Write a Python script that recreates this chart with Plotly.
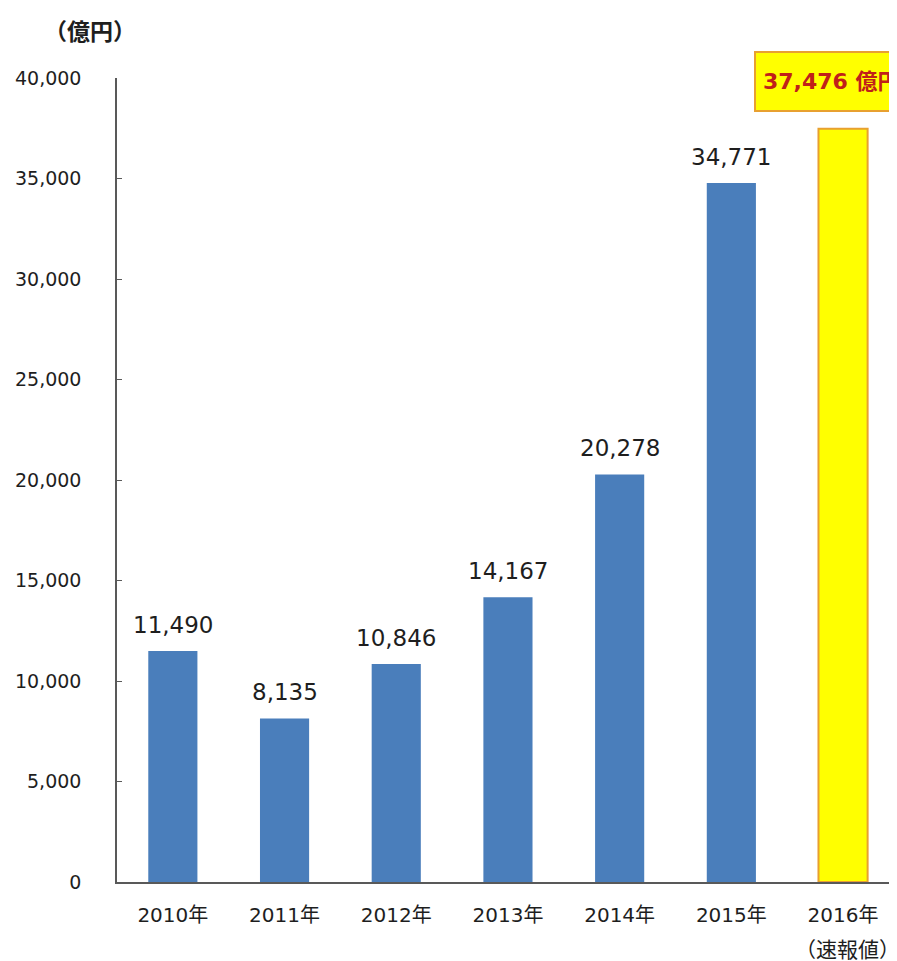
import plotly.graph_objects as go

categories = ["2010年", "2011年", "2012年", "2013年", "2014年", "2015年", "2016年"]
values = [11490, 8135, 10846, 14167, 20278, 34771, 37476]
y_ticks = [0, 5000, 10000, 15000, 20000, 25000, 30000, 35000, 40000]
y_tick_labels = ["0", "5,000", "10,000", "15,000", "20,000", "25,000", "30,000", "35,000", "40,000"]
unit_label = "（億円）"
note_label = "（速報値）"
callout_label = "37,476 億円"

FONT = "DejaVu Sans, Noto Sans CJK JP"
CJK = "Noto Sans CJK JP"
BLUE = "#4A7EBB"
YELLOW = "#FFFF00"
ORANGE = "#E8A030"
TXT = "#1e1e1e"

xs = list(range(len(categories)))
colors = [BLUE] * 6 + [YELLOW]
line_colors = [BLUE] * 6 + [ORANGE]
line_widths = [0] * 6 + [2]

# page offset compensation (body margin 8px)
W, H = 889, 953
L, T, B = 109, 70, 79
PW, PH = W - L, H - T - B


def px(page_x):
    return (page_x - 8 - L) / PW


def py(page_y):
    return (H - B - (page_y - 8)) / PH


fig = go.Figure()
fig.add_trace(go.Bar(
    x=xs, y=values, width=0.44,
    marker=dict(color=colors, line=dict(color=line_colors, width=line_widths)),
    hoverinfo="x+y",
))

annotations = []
for i, v in enumerate(values[:6]):
    annotations.append(dict(
        x=xs[i], y=v, xref="x", yref="y", text=f"{v:,}", showarrow=False,
        yanchor="bottom", yshift=11,
        font=dict(family=FONT, size=23, color=TXT),
    ))

annotations += [
    dict(text=unit_label, x=px(90), y=py(30), xref="paper", yref="paper",
         xanchor="center", yanchor="middle", showarrow=False,
         font=dict(family=CJK, size=23, color=TXT, weight="bold")),
    dict(text=note_label, x=6.04, xref="x", y=py(948), yref="paper",
         xanchor="center", yanchor="middle", showarrow=False,
         font=dict(family=CJK, size=21, color=TXT)),
    dict(text=callout_label, x=5.203, xref="x", xanchor="left",
         y=py(81.5), yref="paper", yanchor="middle", showarrow=False,
         width=180, height=43, align="left", valign="middle",
         bgcolor=YELLOW, bordercolor=ORANGE, borderwidth=2, borderpad=7,
         font=dict(family=FONT, size=22, color="#C0201A", weight="bold")),
]

fig.update_layout(
    width=W, height=H,
    margin=dict(l=L, r=0, t=T, b=B, pad=0),
    paper_bgcolor="white", plot_bgcolor="white",
    showlegend=False,
    xaxis=dict(
        range=[-0.5, 6.483], tickmode="array", tickvals=xs, ticktext=categories,
        showline=True, linecolor="#595959", linewidth=1.5, showgrid=False,
        ticks="", tickfont=dict(family=FONT, size=20, color=TXT),
        ticklabelstandoff=14, zeroline=False,
    ),
    yaxis=dict(
        range=[0, 40000], tickmode="array", tickvals=y_ticks, ticktext=y_tick_labels,
        showline=True, linecolor="#595959", linewidth=1.5, showgrid=False,
        ticks="inside", ticklen=5, tickcolor="#595959",
        tickfont=dict(family=FONT, size=19, color=TXT),
        ticklabelstandoff=30, zeroline=False,
    ),
    annotations=annotations,
)

fig.write_html("out.html")
